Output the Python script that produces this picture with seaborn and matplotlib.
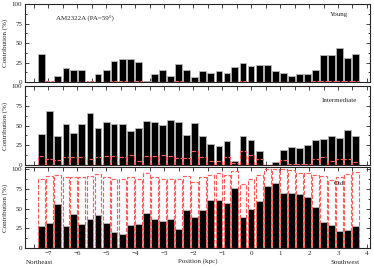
import matplotlib
matplotlib.use("Agg")
import matplotlib.pyplot as plt
from matplotlib.ticker import MultipleLocator
import seaborn as sns

# bin centres along the slit (kpc)
posicion = [-7.23, -6.95, -6.67, -6.39, -6.12, -5.84, -5.56, -5.28, -5.00, -4.73,
            -4.45, -4.17, -3.89, -3.61, -3.34, -3.06, -2.78, -2.50, -2.22, -1.95,
            -1.67, -1.39, -1.11, -0.83, -0.56, -0.28, 0.00, 0.28, 0.56, 0.83,
            1.11, 1.39, 1.67, 1.95, 2.22, 2.50, 2.78, 3.06, 3.34, 3.61]

# light-weighted contributions (%)
joven = [35.6, 0, 8.1, 17.6, 15, 15.4, 0, 10.7, 15.9, 27.4,
         30, 30, 25.3, 1, 10.3, 15, 8.1, 23.2, 15.9, 6.9,
         14.6, 12, 14.6, 12, 19.3, 24.9, 20.1, 22.3, 22.3, 14.1,
         11.1, 7.3, 9.9, 10.7, 15, 34.3, 34.3, 43.3, 31.3, 35.6]
intermedia = [38.8, 68.3, 37, 51.7, 40.8, 52, 65.4, 47, 54, 52,
              52, 43.3, 47, 55.8, 54.6, 51.3, 57, 54, 38.3, 52.9,
              37, 26.7, 24.2, 30.4, 5, 36.7, 31.7, 17.9, 0.5, 3.3,
              19.6, 22.9, 22, 25.8, 31.7, 32.5, 36.3, 34.6, 44.6, 37]
vieja = [27.5, 32.2, 55.5, 28.4, 43.6, 30.9, 36.9, 42.4, 32.2, 20.3,
         18.2, 29.7, 30.9, 44, 36.4, 34.7, 36.4, 24.2, 47.9, 39,
         48.7, 61.4, 60.2, 57.6, 75.8, 39.8, 49.2, 59.7, 78.4, 82.6,
         69.5, 69.9, 68.6, 64, 52.1, 32.6, 29.2, 21.6, 23.3, 27.5]

# mass-weighted contributions (%) - red dashed
joven_m = [0.4, 0.7, 0.3, 0.4, 0.6, 0.3, 1.5, 0.3, 0.3, 1,
           1.5, 0.3, 1, 0.3, 0.5, 0.5, 0.6, 1, 0.5, 0.5,
           0.5, 0.5, 0.5, 0.5, 0.3, 0.8, 0.5, 0.5, 0.3, 0.3,
           0.3, 0.5, 0.5, 0.5, 0.8, 1.2, 1.5, 1.2, 1, 1]
intermedia_m = [11.7, 8.3, 6.7, 9.6, 10, 10, 7.5, 9.6, 11.3, 11.3,
                10.4, 12.5, 5.8, 12, 12, 12.5, 11.7, 9.2, 9.2, 17.5,
                10, 5.8, 5.8, 10, 3, 18.3, 12.5, 7.5, 0.3, 0.5,
                6.3, 2, 1.7, 2, 8.3, 10, 4.6, 8.3, 8.3, 3.3]
vieja_m = [88, 91, 93, 90, 89.4, 89.8, 90.7, 93.2, 89.8, 87.7,
           88, 89.8, 86.9, 94.5, 89.8, 88, 87.7, 88, 91, 83.9,
           90.3, 92.4, 94.5, 92.4, 97.9, 80.5, 87.3, 92.4, 100, 99.6,
           100, 98.7, 94.5, 94.5, 92.4, 91, 86, 90.3, 93.2, 95.8]

rojo = "#ff5c5c"

sns.set_style("ticks")
plt.rcParams['font.family'] = ['Liberation Serif', 'DejaVu Serif']
plt.rcParams['font.size'] = 5

fig = plt.figure(figsize=(3.74, 2.68), dpi=100)
ejes = [fig.add_axes([0.067, 0.694, 0.922, 0.291]),
        fig.add_axes([0.067, 0.384, 0.922, 0.295]),
        fig.add_axes([0.067, 0.0746, 0.922, 0.302])]

paneles = [(joven, joven_m, "Young", 0.86, 100),
           (intermedia, intermedia_m, "Intermediate", 0.82, 100),
           (vieja, vieja_m, "Old", 0.80, 102.5)]

for ax, (luz, masa, nombre, ytxt, ymax) in zip(ejes, paneles):
    sns.barplot(x=posicion, y=luz, native_scale=True, color="black",
                edgecolor="0.72", linewidth=0.6, width=0.87, errorbar=None,
                saturation=1, ax=ax)
    n = len(ax.patches)
    sns.barplot(x=posicion, y=masa, native_scale=True, color=rojo,
                width=0.87, errorbar=None, saturation=1, ax=ax)
    # dashed outlines only
    for p in ax.patches[n:]:
        p.set_facecolor("none")
        p.set_edgecolor(rojo)
        p.set_linestyle((0, (3.5, 1.5)))
        p.set_linewidth(0.85)
        p.set_zorder(3)
    ax.set_xlim(-7.8, 4.1)
    ax.set_ylim(0, ymax)
    ax.xaxis.set_major_locator(MultipleLocator(1))
    ax.xaxis.set_minor_locator(MultipleLocator(0.5))
    ax.yaxis.set_major_locator(MultipleLocator(25))
    ax.yaxis.set_minor_locator(MultipleLocator(12.5))
    ax.tick_params(which="both", direction="in", top=True, right=True,
                   width=0.6, labelsize=5, pad=2)
    ax.tick_params(which="major", length=3)
    ax.tick_params(axis="x", which="minor", length=3)
    ax.tick_params(axis="y", which="minor", length=1.5)
    for s in ax.spines.values():
        s.set_linewidth(0.8)
        s.set_zorder(4)
    ax.set_ylabel("Contribution (%)", fontsize=5)
    ax.yaxis.set_label_coords(-0.05, 0.5)
    ax.text(0.91, ytxt, nombre, transform=ax.transAxes, ha="center",
            va="center", fontsize=5)

ejes[0].tick_params(labelbottom=False)
ejes[1].tick_params(labelbottom=False)
ejes[0].text(0.174, 0.81, "AM2322A (PA=59\u00b0)", transform=ejes[0].transAxes,
             ha="center", va="center", fontsize=5)

ax = ejes[2]
ax.set_xlabel("Position (kpc)", fontsize=5, labelpad=1.5)
ax.text(0.003, -0.18, "Northeast", transform=ax.transAxes, ha="left",
        va="center", fontsize=5)
ax.text(0.97, -0.18, "Southwest", transform=ax.transAxes, ha="right",
        va="center", fontsize=5)

fig.savefig("out.png", dpi=100)
